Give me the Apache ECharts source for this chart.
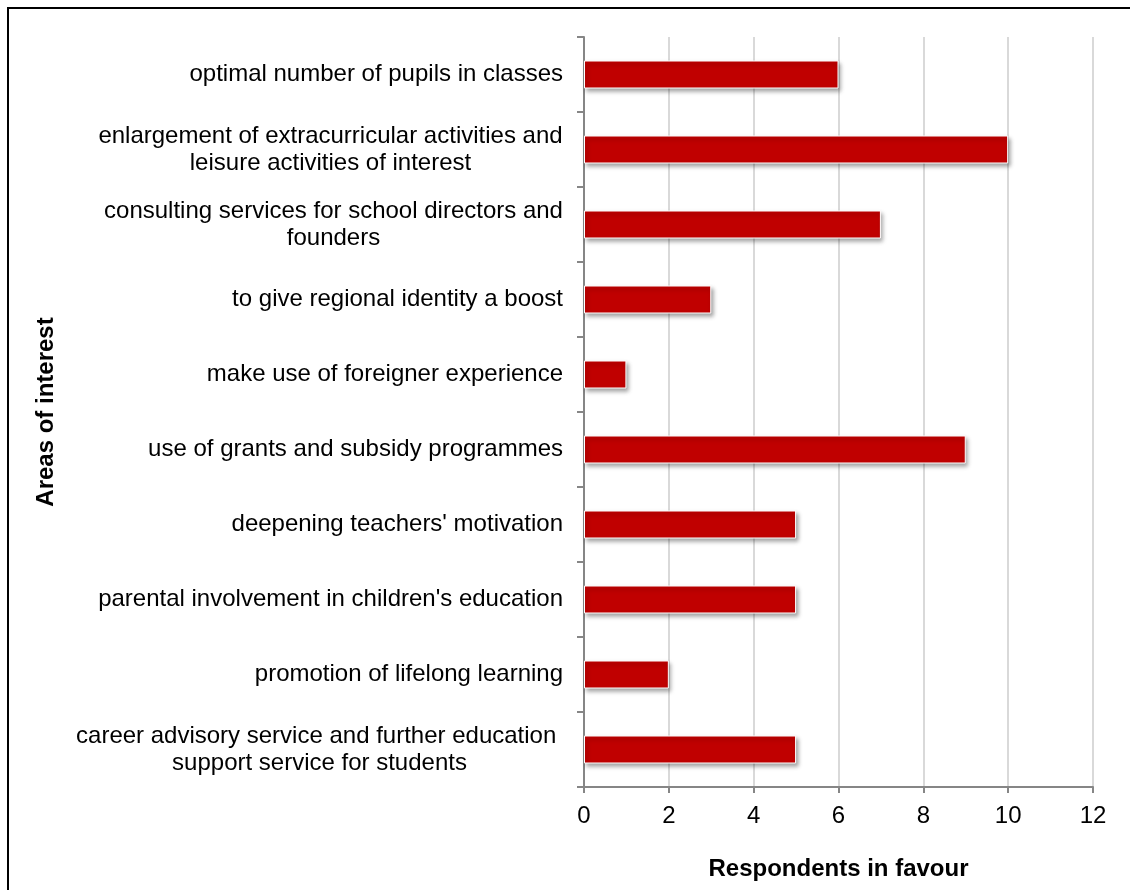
<!DOCTYPE html>
<html>
<head>
<meta charset="utf-8">
<script src="https://cdn.jsdelivr.net/npm/echarts@6/dist/echarts.min.js"></script>
<style>
  html, body { margin: 0; padding: 0; background: #fff; }
  #chart { width: 1130px; height: 890px; }
</style>
</head>
<body>
<div id="chart"></div>
<script>
// Areas of interest, listed top to bottom
const categories = [
  'optimal number of pupils in classes',
  'enlargement of extracurricular activities and\nleisure activities of interest',
  'consulting services for school directors and\nfounders',
  'to give regional identity a boost',
  'make use of foreigner experience',
  'use of grants and subsidy programmes',
  "deepening teachers' motivation",
  "parental involvement in children's education",
  'promotion of lifelong learning',
  'career advisory service and further education \nsupport service for students'
];
// Number of respondents in favour of each area
const respondents = [6, 10, 7, 3, 1, 9, 5, 5, 2, 5];
const xTicks = { min: 0, max: 12, interval: 2 };
const xTitle = 'Respondents in favour';
const yTitle = 'Areas of interest';

const FONT = '"Liberation Sans", Arial, sans-serif';
const LABEL_SIZE = 24;

// Multi-line labels: lines are centred on each other, the block sits right-aligned
// against the axis. Each label gets a rich style whose width is its longest line.
const measureCtx = document.createElement('canvas').getContext('2d');
measureCtx.font = LABEL_SIZE + 'px ' + FONT;
const richStyles = {};
categories.forEach((cat, i) => {
  const lines = cat.split('\n');
  if (lines.length > 1) {
    const w = Math.ceil(Math.max(...lines.map(l => measureCtx.measureText(l).width)));
    richStyles['c' + i] = {
      width: w, align: 'center', fontFamily: FONT, fontSize: LABEL_SIZE,
      lineHeight: 27, color: '#000'
    };
  }
});

const chart = echarts.init(document.getElementById('chart'), null, { renderer: 'canvas' });

chart.setOption({
  animation: false,
  backgroundColor: '#ffffff',
  grid: { left: 584, right: 37, top: 37, bottom: 103, containLabel: false },
  xAxis: {
    type: 'value',
    min: xTicks.min,
    max: xTicks.max,
    interval: xTicks.interval,
    name: xTitle,
    nameLocation: 'middle',
    nameGap: 70,
    nameTextStyle: { fontFamily: FONT, fontSize: 24, fontWeight: 'bold', color: '#000' },
    axisLine: { show: true, lineStyle: { color: '#868686', width: 2 } },
    axisTick: { show: true, length: 6, lineStyle: { color: '#868686', width: 2 } },
    axisLabel: { fontFamily: FONT, fontSize: 24, color: '#000', margin: 17 },
    splitLine: { show: true, lineStyle: { color: '#d9d9d9', width: 2 } }
  },
  yAxis: {
    type: 'category',
    data: categories,
    inverse: true,
    axisLine: { show: true, lineStyle: { color: '#868686', width: 2 } },
    axisTick: { show: true, length: 7, alignWithLabel: false, lineStyle: { color: '#868686', width: 2 } },
    axisLabel: {
      fontFamily: FONT, fontSize: LABEL_SIZE, color: '#000', margin: 21,
      lineHeight: 27, align: 'right', interval: 0,
      formatter: (value, index) => {
        const lines = value.split('\n');
        if (lines.length === 1) return value;
        return lines.map(l => '{c' + index + '|' + l + '}').join('\n');
      },
      rich: richStyles
    },
    splitLine: { show: false }
  },
  series: [{
    type: 'bar',
    data: respondents,
    barWidth: 28,
    itemStyle: {
      color: '#c00000',
      borderColor: '#ffffff',
      borderWidth: 1,
      shadowColor: 'rgba(0,0,0,0.35)',
      shadowBlur: 4,
      shadowOffsetX: 2,
      shadowOffsetY: 3
    }
  }],
  graphic: [
    {
      type: 'rect',
      silent: true,
      shape: { x: 8, y: 8, width: 1300, height: 1000 },
      style: { fill: 'none', stroke: '#000', lineWidth: 2 }
    },
    {
      type: 'text',
      silent: true,
      x: 46,
      y: 412,
      rotation: Math.PI / 2,
      style: {
        text: yTitle,
        fontFamily: FONT,
        fontSize: 24,
        fontWeight: 'bold',
        fill: '#000',
        align: 'center',
        verticalAlign: 'middle'
      }
    }
  ]
});
</script>
</body>
</html>
